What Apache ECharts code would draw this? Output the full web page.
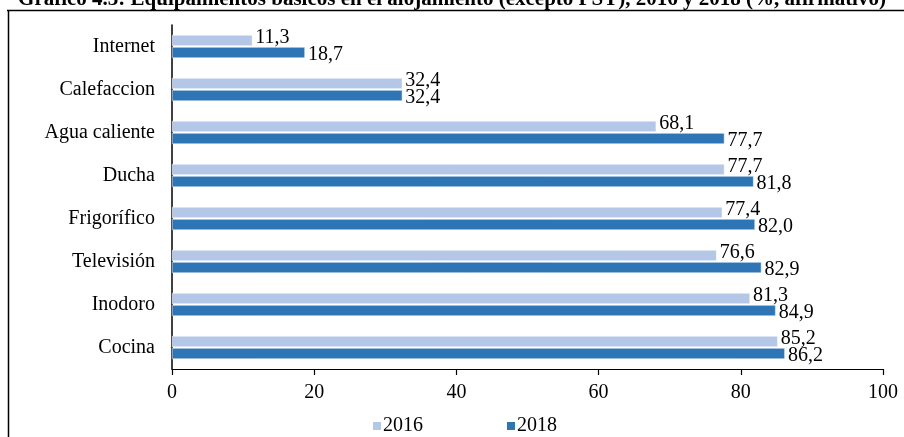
<!DOCTYPE html>
<html>
<head>
<meta charset="utf-8">
<script src="https://cdn.jsdelivr.net/npm/echarts@6/dist/echarts.min.js"></script>
<style>
html, body { margin: 0; padding: 0; background: #fff; }
#chart { width: 904px; height: 437px; }
</style>
</head>
<body>
<div id="chart"></div>
<script>
// Equipment categories, top to bottom
const categories = ['Internet', 'Calefaccion', 'Agua caliente', 'Ducha', 'Frigorífico', 'Televisión', 'Inodoro', 'Cocina'];
const values2016 = [11.3, 32.4, 68.1, 77.7, 77.4, 76.6, 81.3, 85.2];
const values2018 = [18.7, 32.4, 77.7, 81.8, 82.0, 82.9, 84.9, 86.2];
const xTicks = [0, 20, 40, 60, 80, 100];

const SERIF = '"Liberation Serif", "DejaVu Serif", serif';
const FS = 20;
const fmt = v => v.toFixed(1).replace('.', ',');

const chart = echarts.init(document.getElementById('chart'));
chart.setOption({
  animation: false,
  backgroundColor: '#fff',
  title: {
    text: 'Gráfico 4.3: Equipamientos básicos en el alojamiento (excepto PSY), 2016 y 2018 (%, afirmativo)',
    left: 'center',
    top: -16,
    textStyle: { fontFamily: SERIF, fontSize: 21, fontWeight: 'bold', color: '#000' }
  },
  graphic: [
    { type: 'line', shape: { x1: 7, y1: 10.5, x2: 904, y2: 10.5 }, style: { stroke: '#000', lineWidth: 1.5 } },
    { type: 'line', shape: { x1: 8.5, y1: 10, x2: 8.5, y2: 437 }, style: { stroke: '#000', lineWidth: 1.5 } }
  ],
  legend: {
    bottom: -4,
    left: 366,
    itemGap: 82,
    itemWidth: 10,
    itemHeight: 10,
    icon: 'rect',
    textStyle: { fontFamily: SERIF, fontSize: FS, color: '#000', padding: [0, 0, 0, -4] },
    data: ['2016', '2018']
  },
  grid: { left: 172, right: 21, top: 25, bottom: 68, containLabel: false },
  xAxis: {
    type: 'value',
    min: 0,
    max: 100,
    interval: 20,
    axisLine: { show: true, lineStyle: { color: '#000', width: 1.2 } },
    axisTick: { show: true, length: 6, lineStyle: { color: '#000', width: 1.2 } },
    splitLine: { show: false },
    axisLabel: {
      fontFamily: SERIF, fontSize: FS, color: '#000', margin: 14,
      formatter: v => (xTicks.includes(v) ? String(v) : '')
    }
  },
  yAxis: {
    type: 'category',
    inverse: true,
    data: categories,
    axisLine: { show: true, lineStyle: { color: '#000', width: 1.5 } },
    axisTick: { show: false },
    axisLabel: { fontFamily: SERIF, fontSize: FS, color: '#000', margin: 17 }
  },
  series: [
    {
      name: '2016',
      type: 'bar',
      data: values2016,
      barWidth: 11,
      barGap: '10%',
      itemStyle: { color: '#B4C7E7', borderColor: '#fff', borderWidth: 0.5 },
      label: {
        show: true, position: 'right', distance: 3, offset: [0, -3],
        fontFamily: SERIF, fontSize: FS, color: '#000',
        formatter: p => fmt(p.value)
      }
    },
    {
      name: '2018',
      type: 'bar',
      data: values2018,
      barWidth: 11,
      itemStyle: { color: '#2E75B6', borderColor: '#fff', borderWidth: 0.5 },
      label: {
        show: true, position: 'right', distance: 3, offset: [0, 2],
        fontFamily: SERIF, fontSize: FS, color: '#000',
        formatter: p => fmt(p.value)
      }
    }
  ]
});
</script>
</body>
</html>
